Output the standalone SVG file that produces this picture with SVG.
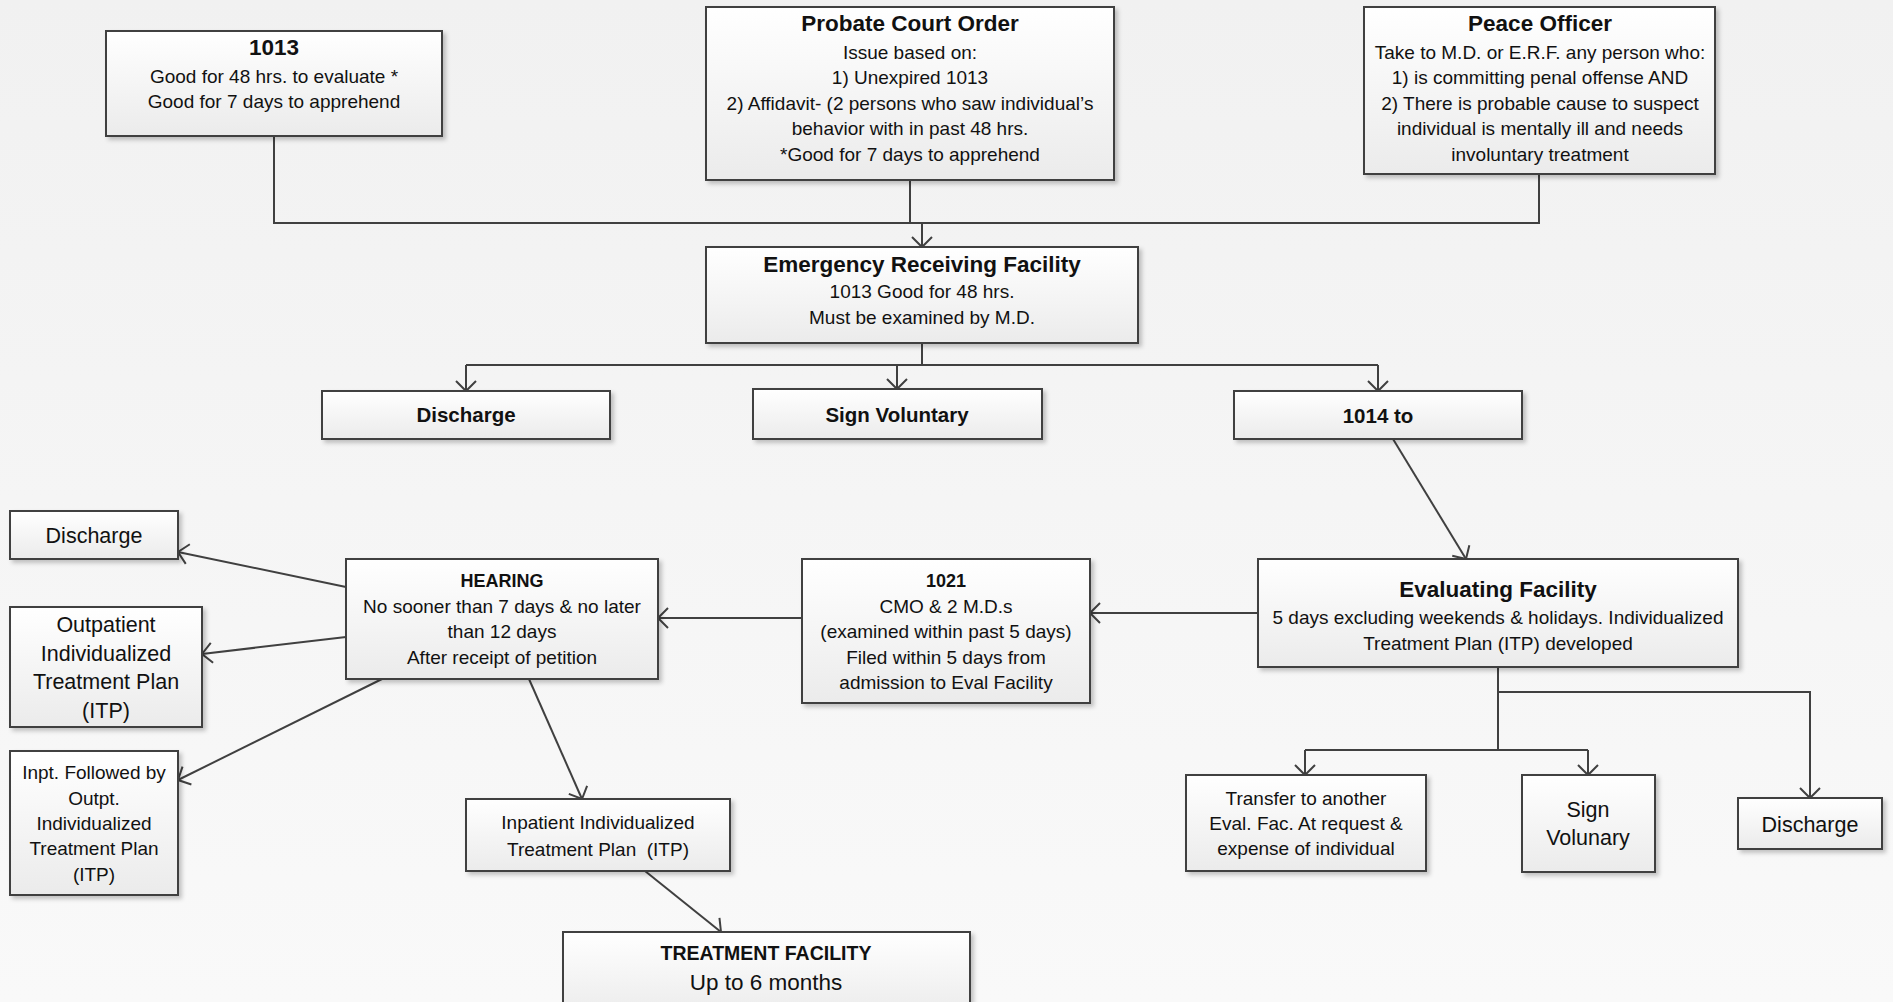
<svg xmlns="http://www.w3.org/2000/svg" width="1893" height="1002" viewBox="0 0 1893 1002">
<defs>
<linearGradient id="bg" x1="0" y1="0" x2="0" y2="1">
<stop offset="0" stop-color="#f1f1f1"/>
<stop offset="1" stop-color="#f9f9f9"/>
</linearGradient>
<linearGradient id="box" x1="0" y1="0" x2="0" y2="1">
<stop offset="0" stop-color="#ffffff"/>
<stop offset="1" stop-color="#ebebeb"/>
</linearGradient>
<filter id="sh" x="-10%" y="-10%" width="130%" height="130%">
<feDropShadow dx="3" dy="3" stdDeviation="2" flood-color="#000" flood-opacity="0.22"/>
</filter>
<marker id="arr" viewBox="-12 -12 14 24" markerWidth="14" markerHeight="24" refX="0" refY="0" orient="auto" markerUnits="userSpaceOnUse">
<path d="M-10,-10 L0,0 L-10,10" fill="none" stroke="#404040" stroke-width="2"/>
</marker>
</defs>
<style>
.b{fill:url(#box);stroke:#404040;stroke-width:2;filter:url(#sh)}
text{font-family:"Liberation Sans",Arial,sans-serif;fill:#111;text-anchor:middle}
.t{font-weight:bold;font-size:22.5px}
.s{font-weight:bold;font-size:20.5px}
.h{font-weight:bold;font-size:18px}
.x{font-size:19px}
.l{font-size:21.5px}
.c{fill:none;stroke:#404040;stroke-width:2}
.a{fill:none;stroke:#404040;stroke-width:2;marker-end:url(#arr)}
</style>
<rect width="1893" height="1002" fill="url(#bg)"/>

<g id="connectors">
<polyline class="c" points="274,136 274,223 1539,223 1539,174"/>
<line class="c" x1="910" y1="180" x2="910" y2="223"/>
<line class="a" x1="922" y1="223" x2="922" y2="247"/>
<line class="c" x1="922" y1="343" x2="922" y2="365"/>
<line class="c" x1="466" y1="365" x2="1378" y2="365"/>
<line class="a" x1="466" y1="365" x2="466" y2="391"/>
<line class="a" x1="897" y1="365" x2="897" y2="389"/>
<line class="a" x1="1378" y1="365" x2="1378" y2="391"/>
<line class="a" x1="1393" y1="439" x2="1466" y2="559"/>
<line class="a" x1="1258" y1="613" x2="1090" y2="613"/>
<line class="a" x1="802" y1="618" x2="658" y2="618"/>
<line class="a" x1="346" y1="587" x2="178" y2="552"/>
<line class="a" x1="346" y1="637" x2="202" y2="654"/>
<line class="a" x1="382" y1="679" x2="178" y2="780"/>
<line class="a" x1="529" y1="679" x2="582" y2="799"/>
<line class="a" x1="645" y1="871" x2="721" y2="932"/>
<line class="c" x1="1498" y1="667" x2="1498" y2="750"/>
<polyline class="a" points="1498,692 1810,692 1810,798"/>
<line class="c" x1="1305" y1="750" x2="1588" y2="750"/>
<line class="a" x1="1305" y1="750" x2="1305" y2="775"/>
<line class="a" x1="1588" y1="750" x2="1588" y2="775"/>
</g>

<g id="n1013">
<rect class="b" x="106" y="31" width="336" height="105"/>
<text class="t" x="274" y="55">1013</text>
<text class="x" x="274" y="83">Good for 48 hrs. to evaluate *</text>
<text class="x" x="274" y="108">Good for 7 days to apprehend</text>
</g>

<g id="probate">
<rect class="b" x="706" y="7" width="408" height="173"/>
<text class="t" x="910" y="31">Probate Court Order</text>
<text class="x" x="910" y="59">Issue based on:</text>
<text class="x" x="910" y="84">1) Unexpired 1013</text>
<text class="x" x="910" y="110">2) Affidavit- (2 persons who saw individual’s</text>
<text class="x" x="910" y="135">behavior with in past 48 hrs.</text>
<text class="x" x="910" y="161">*Good for 7 days to apprehend</text>
</g>

<g id="peace">
<rect class="b" x="1364" y="7" width="351" height="167"/>
<text class="t" x="1540" y="31">Peace Officer</text>
<text class="x" x="1540" y="59">Take to M.D. or E.R.F. any person who:</text>
<text class="x" x="1540" y="84">1) is committing penal offense AND</text>
<text class="x" x="1540" y="110">2) There is probable cause to suspect</text>
<text class="x" x="1540" y="135">individual is mentally ill and needs</text>
<text class="x" x="1540" y="161">involuntary treatment</text>
</g>

<g id="erf">
<rect class="b" x="706" y="247" width="432" height="96"/>
<text class="t" x="922" y="272">Emergency Receiving Facility</text>
<text class="x" x="922" y="298">1013 Good for 48 hrs.</text>
<text class="x" x="922" y="324">Must be examined by M.D.</text>
</g>

<g id="discharge1">
<rect class="b" x="322" y="391" width="288" height="48"/>
<text class="s" x="466" y="422">Discharge</text>
</g>

<g id="signvoluntary">
<rect class="b" x="753" y="389" width="289" height="50"/>
<text class="s" x="897" y="422">Sign Voluntary</text>
</g>

<g id="n1014">
<rect class="b" x="1234" y="391" width="288" height="48"/>
<text class="s" x="1378" y="423">1014 to</text>
</g>

<g id="eval">
<rect class="b" x="1258" y="559" width="480" height="108"/>
<text class="t" x="1498" y="597">Evaluating Facility</text>
<text class="x" x="1498" y="624">5 days excluding weekends &amp; holidays. Individualized</text>
<text class="x" x="1498" y="650">Treatment Plan (ITP) developed</text>
</g>

<g id="n1021">
<rect class="b" x="802" y="559" width="288" height="144"/>
<text class="h" x="946" y="587">1021</text>
<text class="x" x="946" y="613">CMO &amp; 2 M.D.s</text>
<text class="x" x="946" y="638">(examined within past 5 days)</text>
<text class="x" x="946" y="664">Filed within 5 days from</text>
<text class="x" x="946" y="689">admission to Eval Facility</text>
</g>

<g id="hearing">
<rect class="b" x="346" y="559" width="312" height="120"/>
<text class="h" x="502" y="587">HEARING</text>
<text class="x" x="502" y="613">No sooner than 7 days &amp; no later</text>
<text class="x" x="502" y="638">than 12 days</text>
<text class="x" x="502" y="664">After receipt of petition</text>
</g>

<g id="discharge2">
<rect class="b" x="10" y="511" width="168" height="48"/>
<text class="l" x="94" y="543">Discharge</text>
</g>

<g id="outpatient">
<rect class="b" x="10" y="607" width="192" height="120"/>
<text class="l" x="106" y="632">Outpatient</text>
<text class="l" x="106" y="661">Individualized</text>
<text class="l" x="106" y="689">Treatment Plan</text>
<text class="l" x="106" y="718">(ITP)</text>
</g>

<g id="inptfollowed">
<rect class="b" x="10" y="751" width="168" height="144"/>
<text class="x" x="94" y="779">Inpt. Followed by</text>
<text class="x" x="94" y="805">Outpt.</text>
<text class="x" x="94" y="830">Individualized</text>
<text class="x" x="94" y="855">Treatment Plan</text>
<text class="x" x="94" y="881">(ITP)</text>
</g>

<g id="inpatient">
<rect class="b" x="466" y="799" width="264" height="72"/>
<text class="x" x="598" y="829">Inpatient Individualized</text>
<text class="x" x="598" y="856">Treatment Plan&#160; (ITP)</text>
</g>

<g id="treatment">
<rect class="b" x="563" y="932" width="407" height="85"/>
<text style="font-weight:bold;font-size:19.5px" x="766" y="960">TREATMENT FACILITY</text>
<text style="font-size:22.5px" x="766" y="990">Up to 6 months</text>
</g>

<g id="transfer">
<rect class="b" x="1186" y="775" width="240" height="96"/>
<text class="x" x="1306" y="805">Transfer to another</text>
<text class="x" x="1306" y="830">Eval. Fac. At request &amp;</text>
<text class="x" x="1306" y="855">expense of individual</text>
</g>

<g id="signvolunary">
<rect class="b" x="1522" y="775" width="133" height="97"/>
<text class="l" x="1588" y="817">Sign</text>
<text class="l" x="1588" y="845">Volunary</text>
</g>

<g id="discharge3">
<rect class="b" x="1738" y="798" width="144" height="51"/>
<text class="l" x="1810" y="832">Discharge</text>
</g>
</svg>
